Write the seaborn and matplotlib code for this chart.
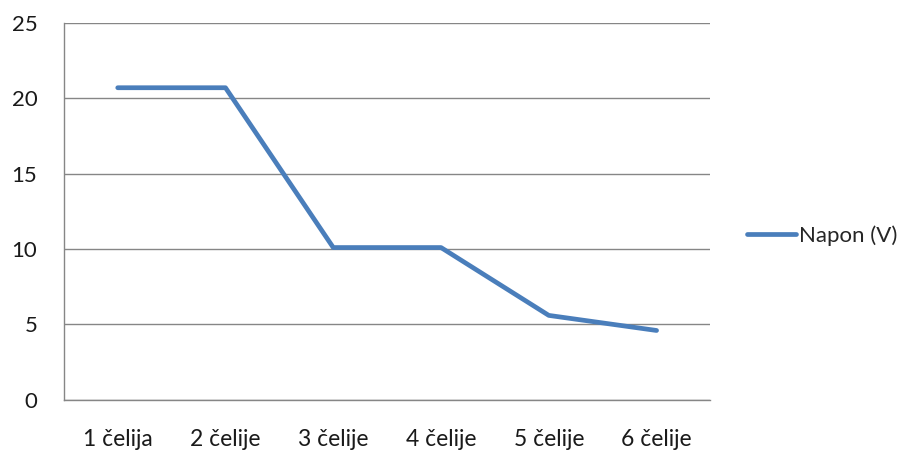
import matplotlib
matplotlib.use("Agg")
import matplotlib.pyplot as plt
import seaborn as sns
import pandas as pd
from matplotlib.ticker import FixedLocator, NullFormatter

# podaci sa grafika
celije = ["1 čelija", "2 čelije", "3 čelije", "4 čelije", "5 čelije", "6 čelije"]
napon = [20.7, 20.7, 10.1, 10.1, 5.6, 4.6]
y_ticks = [0, 5, 10, 15, 20, 25]

df = pd.DataFrame({"celije": celije, "napon": napon})

sns.set_style("white")
plt.rcParams["font.family"] = ["Lato", "DejaVu Sans"]

fig = plt.figure(figsize=(9.12, 4.58), dpi=100)
ax = fig.add_axes([0.070, 0.127, 0.709, 0.823])

sns.lineplot(data=df, x="celije", y="napon", ax=ax, color="#4a7ebb",
             linewidth=3.4, label="Napon (V)", sort=False)

ax.set_ylim(0, 25)
ax.set_xlim(-0.5, len(celije) - 0.5)
ax.set_yticks(y_ticks)
ax.set_yticklabels([str(t) for t in y_ticks], fontsize=16, color="#1a1a1a")

# tick marks between categories, labels in the middle
ax.xaxis.set_major_locator(FixedLocator([i - 0.5 for i in range(len(celije) + 1)]))
ax.xaxis.set_major_formatter(NullFormatter())
ax.xaxis.set_minor_locator(FixedLocator(list(range(len(celije)))))
ax.set_xticklabels(celije, minor=True, fontsize=16.5, color="#1a1a1a")
ax.tick_params(axis="x", which="minor", length=0, pad=21)
ax.tick_params(axis="x", which="major", length=5, width=1, color="#868686", direction="out")
ax.tick_params(axis="y", length=6, width=1, color="#868686", direction="out", pad=13)

ax.grid(axis="y", color="#868686", linewidth=1)
ax.set_axisbelow(True)
for side in ["top", "right"]:
    ax.spines[side].set_visible(False)
for side in ["left", "bottom"]:
    ax.spines[side].set_color("#868686")
    ax.spines[side].set_linewidth(1)

ax.set_xlabel("")
ax.set_ylabel("")

handles, labels = ax.get_legend_handles_labels()
ax.get_legend().remove()
fig.legend(handles, labels, loc="center left", bbox_to_anchor=(0.797, 0.485),
           frameon=False, fontsize=16, handlelength=2.2, handletextpad=0.15)

fig.savefig("out.png", dpi=100)
